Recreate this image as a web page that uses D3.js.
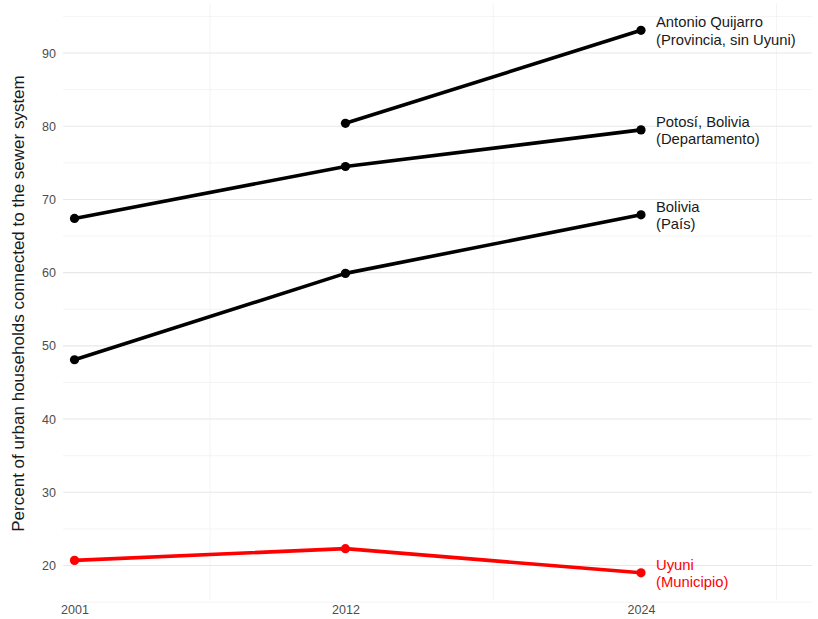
<!DOCTYPE html>
<html>
<head>
<meta charset="utf-8">
<script src="https://cdn.jsdelivr.net/npm/d3@7"></script>
<style>
  html, body { margin: 0; padding: 0; background: #fff; }
  svg { display: block; font-family: "Liberation Sans", Arial, sans-serif; }
</style>
</head>
<body>
<svg id="chart" width="818" height="619"></svg>
<script>
// ---- data ----
const years = [2001, 2012, 2024];
const seriesNames = ["Antonio Quijarro", "Potosí, Bolivia", "Bolivia", "Uyuni"];
const seriesLabels = [
  ["Antonio Quijarro", "(Provincia, sin Uyuni)"],
  ["Potosí, Bolivia", "(Departamento)"],
  ["Bolivia", "(País)"],
  ["Uyuni", "(Municipio)"]
];
const antonioQuijarro = [null, 80.4, 93.1];
const potosi = [67.4, 74.5, 79.5];
const bolivia = [48.1, 59.9, 67.9];
const uyuni = [20.7, 22.3, 19.0];
const seriesColors = ["#000000", "#000000", "#000000", "#ff0000"];
const yTicks = [20, 30, 40, 50, 60, 70, 80, 90];
const yMinor = [15, 25, 35, 45, 55, 65, 75, 85, 95];
const xMinor = [2006.5, 2018, 2029.5];
const yTitle = "Percent of urban households connected to the sewer system";

const allSeries = [antonioQuijarro, potosi, bolivia, uyuni];

// ---- layout ----
const svg = d3.select("#chart");
const panel = { left: 63, right: 812, top: 3, bottom: 600 };

const x = d3.scaleLinear().domain([2001, 2024]).range([74.5, 641]);
const y = d3.scaleLinear().domain([20, 90]).range([565.5, 53]);

// grid
const grid = svg.append("g");
grid.selectAll("line.ymin").data(yMinor).join("line")
  .attr("x1", panel.left).attr("x2", panel.right)
  .attr("y1", d => y(d)).attr("y2", d => y(d))
  .attr("stroke", "#f1f1f1").attr("stroke-width", 0.8);
grid.selectAll("line.xmin").data(xMinor).join("line")
  .attr("x1", d => x(d)).attr("x2", d => x(d))
  .attr("y1", panel.top).attr("y2", panel.bottom)
  .attr("stroke", "#f1f1f1").attr("stroke-width", 0.8);
grid.selectAll("line.ymaj").data(yTicks).join("line")
  .attr("x1", panel.left).attr("x2", panel.right)
  .attr("y1", d => y(d)).attr("y2", d => y(d))
  .attr("stroke", "#e8e8e8").attr("stroke-width", 1.1);

// axes
const yAxis = svg.append("g")
  .attr("transform", `translate(${panel.left - 5},0)`)
  .call(d3.axisLeft(y).tickValues(yTicks).tickSize(0).tickPadding(2));
yAxis.select(".domain").remove();
yAxis.selectAll("text").attr("fill", "#4d4d4d").style("font-size", "12.5px")
  .style("font-family", "Liberation Sans, Arial, sans-serif");

const xAxis = svg.append("g")
  .attr("transform", `translate(0,${panel.bottom + 3})`)
  .call(d3.axisBottom(x).tickValues(years).tickFormat(d3.format("d")).tickSize(0).tickPadding(2));
xAxis.select(".domain").remove();
xAxis.selectAll("text").attr("fill", "#4d4d4d").style("font-size", "12.5px")
  .style("font-family", "Liberation Sans, Arial, sans-serif");

svg.append("text")
  .attr("transform", `translate(24,${(panel.top + panel.bottom) / 2 + 2}) rotate(-90)`)
  .attr("text-anchor", "middle")
  .attr("fill", "#1a1a1a")
  .style("font-size", "17px")
  .text(yTitle);

// lines & points
const line = d3.line()
  .defined(d => d.v != null)
  .x(d => x(d.year)).y(d => y(d.v));

allSeries.forEach((vals, i) => {
  const pts = years.map((yr, j) => ({ year: yr, v: vals[j] }));
  const g = svg.append("g");
  g.append("path").datum(pts)
    .attr("d", line)
    .attr("fill", "none")
    .attr("stroke", seriesColors[i])
    .attr("stroke-width", 3.6)
    .attr("stroke-linejoin", "round");
  g.selectAll("circle").data(pts.filter(d => d.v != null)).join("circle")
    .attr("cx", d => x(d.year)).attr("cy", d => y(d.v))
    .attr("r", 4.6)
    .attr("fill", seriesColors[i]);
  const last = pts[pts.length - 1];
  const t = g.append("text")
    .attr("x", x(last.year) + 15)
    .attr("y", y(last.v))
    .attr("fill", i === 3 ? "#ff0000" : "#1a1a1a")
    .style("font-size", "14.8px");
  t.append("tspan").attr("x", x(last.year) + 15).attr("dy", "-0.22em").text(seriesLabels[i][0]);
  t.append("tspan").attr("x", x(last.year) + 15).attr("dy", "1.2em").text(seriesLabels[i][1]);
});
</script>
</body>
</html>
